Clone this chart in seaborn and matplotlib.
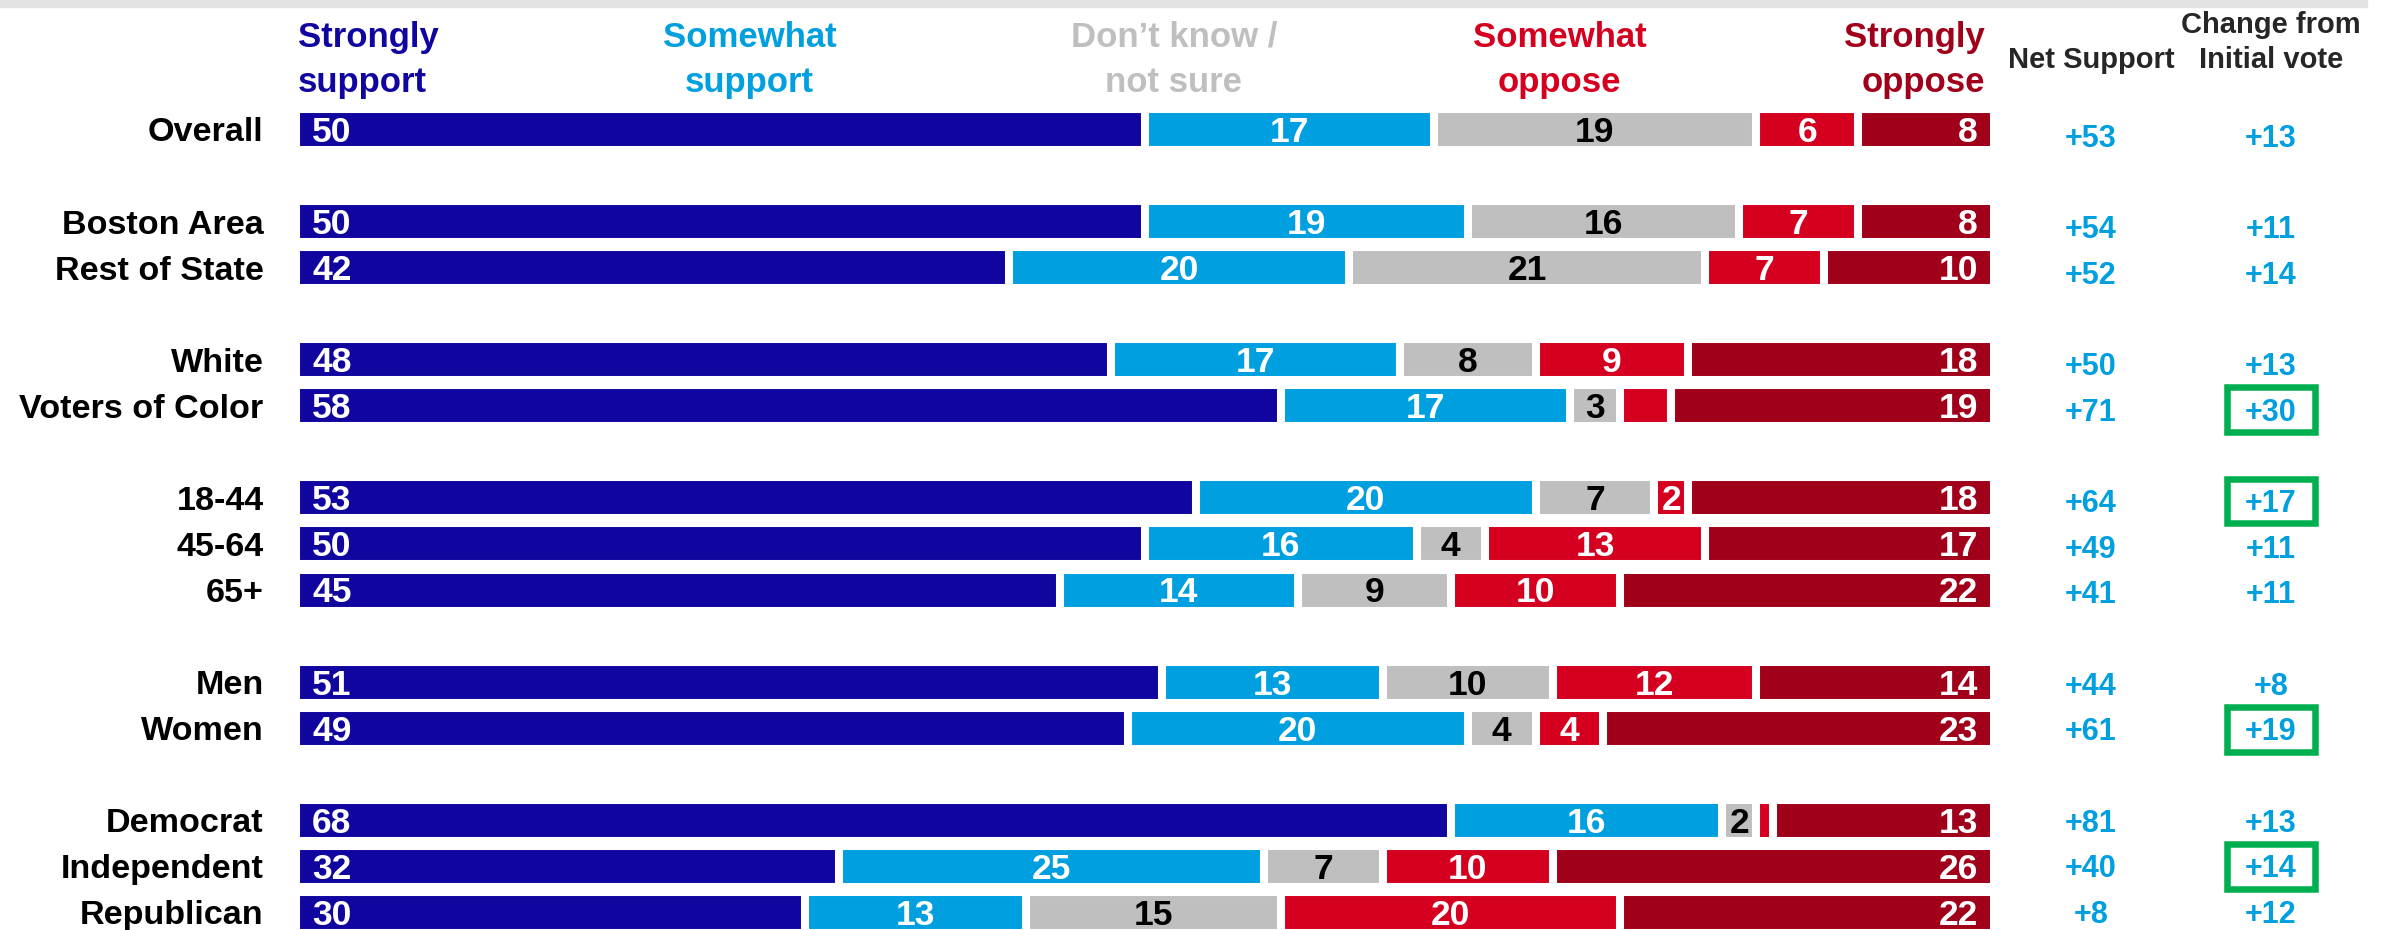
import matplotlib.pyplot as plt
from matplotlib.patches import Rectangle
import pandas as pd
import seaborn as sns

groups = ["Overall", "Boston Area", "Rest of State", "White", "Voters of Color",
          "18-44", "45-64", "65+", "Men", "Women",
          "Democrat", "Independent", "Republican"]
row_pos = [0, 2, 3, 5, 6, 8, 9, 10, 12, 13, 15, 16, 17]

levels = [["Strongly", "support"], ["Somewhat", "support"], ["Don\u2019t know /", "not sure"],
          ["Somewhat", "oppose"], ["Strongly", "oppose"]]
strongly_support = [50, 50, 42, 48, 58, 53, 50, 45, 51, 49, 68, 32, 30]
somewhat_support = [17, 19, 20, 17, 17, 20, 16, 14, 13, 20, 16, 25, 13]
dont_know = [19, 16, 21, 8, 3, 7, 4, 9, 10, 4, 2, 7, 15]
somewhat_oppose = [6, 7, 7, 9, 3, 2, 13, 10, 12, 4, 1, 10, 20]
strongly_oppose = [8, 8, 10, 18, 19, 18, 17, 22, 14, 23, 13, 26, 22]
unlabeled = [("Voters of Color", 3), ("Democrat", 3)]

net_support = [53, 54, 52, 50, 71, 64, 49, 41, 44, 61, 81, 40, 8]
change_initial = [13, 11, 14, 13, 30, 17, 11, 11, 8, 19, 13, 14, 12]
highlight = ["Voters of Color", "18-44", "Women", "Independent"]

colors = ["#10069f", "#009fdf", "#bfbfbf", "#d5001f", "#a0001a"]
label_colors = ["white", "white", "black", "white", "white"]
BLUE_TXT = "#009fdf"
GREEN = "#00b050"

sns.set_style("white")
plt.rcParams["font.family"] = ["Liberation Sans", "DejaVu Sans"]
plt.rcParams["font.weight"] = "bold"

series = [strongly_support, somewhat_support, dont_know, somewhat_oppose, strongly_oppose]
df = pd.DataFrame({"group": groups})
running = [0] * len(groups)
starts = []
for i, vals in enumerate(series):
    starts.append(list(running))
    running = [r + v for r, v in zip(running, vals)]
    df[f"cum{i}"] = running

# categorical order with blank spacer rows between groups
order = []
for p in range(max(row_pos) + 1):
    order.append(groups[row_pos.index(p)] if p in row_pos else " " * (p + 1))

fig = plt.figure(figsize=(23.89, 9.30), dpi=100)
ax = fig.add_axes([0, 0, 1, 1])

# stacked look: draw cumulative totals back to front
for i in reversed(range(len(series))):
    sns.barplot(data=df, x=f"cum{i}", y="group", order=order, orient="h",
                color=colors[i], saturation=1, width=0.89, errorbar=None,
                edgecolor="white", linewidth=5.8, ax=ax)

ax.set_xlim(-17.43, 123.26)
ax.set_ylim(17.38, -2.81)
ax.axis("off")

NET_X, CHG_X = 105.7, 116.3

for g, gname in enumerate(groups):
    y = order.index(gname)
    ax.text(-1.9, y + 0.26, gname, ha="right", va="baseline", fontsize=24.6, color="black")
    for i, vals in enumerate(series):
        v = vals[g]
        if (gname, i) in unlabeled:
            continue
        if i == 0:
            x, ha = 0.95, "left"
        elif i == len(series) - 1:
            x, ha = starts[i][g] + v - 0.95, "right"
        else:
            x, ha = starts[i][g] + v / 2, "center"
        ax.text(x, y + 0.27, f"{v}", ha=ha, va="baseline", fontsize=25.5,
                color=label_colors[i])
    # right-hand columns sit on a slightly tighter row pitch than the bars
    yc = 0.991 * y + 0.141
    ax.text(NET_X, yc + 0.24, f"+{net_support[g]}", ha="center", va="baseline",
            fontsize=22, color=BLUE_TXT)
    ax.text(CHG_X, yc + 0.24, f"+{change_initial[g]}", ha="center", va="baseline",
            fontsize=22, color=BLUE_TXT)
    if gname in highlight:
        ax.add_patch(Rectangle((CHG_X - 2.6, yc - 0.485), 5.2, 0.97,
                               fill=False, edgecolor=GREEN, linewidth=4.7, clip_on=False))

# column headers, one text per line
head_x = [0.12, 26.7, 51.7, 74.4, 99.45]
head_ha = ["left", "center", "center", "center", "right"]
for i, lines in enumerate(levels):
    for yb, line in zip([-1.79, -0.815], lines):
        ax.text(head_x[i], yb, line, ha=head_ha[i], va="baseline", fontsize=25,
                color=colors[i])
ax.text(NET_X, -1.335, "Net Support", ha="center", va="baseline", fontsize=21)
ax.text(CHG_X, -2.10, "Change from", ha="center", va="baseline", fontsize=21)
ax.text(CHG_X, -1.335, "Initial vote", ha="center", va="baseline", fontsize=21)

# grey strip along the top edge
fig.add_artist(Rectangle((0, 1 - 7 / 930), 2367 / 2389, 7 / 930,
                         transform=fig.transFigure, color="#e3e3e3", zorder=0))

fig.savefig("out.png", dpi=100)
plt.close(fig)
